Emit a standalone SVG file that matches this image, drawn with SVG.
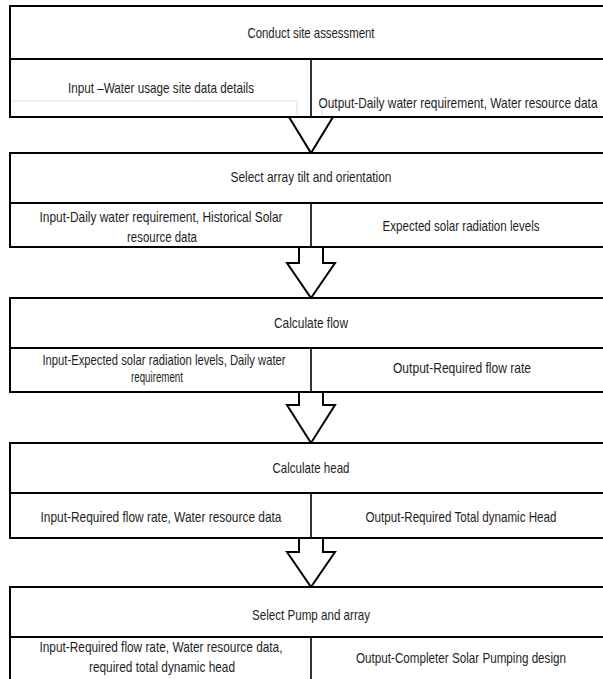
<svg xmlns="http://www.w3.org/2000/svg" width="603" height="679" viewBox="0 0 603 679">
<style>
.box{fill:#fff;stroke:#000;stroke-width:2}
.ln{stroke:#000;stroke-width:2;fill:none}
.dv{stroke:#000;stroke-width:1.6}
.faint{fill:none;stroke:#e2e2e2;stroke-width:1.2}
.arr{fill:#fff;stroke:#000;stroke-width:2;stroke-linejoin:miter}
text{font-family:"Liberation Sans Narrow","Liberation Sans",Arial,sans-serif;font-size:15px;fill:#1e1e1e;text-anchor:middle}
</style>
<rect width="603" height="679" fill="#fff"/>
<g id="connectors">
<polyline class="arr" points="289,117 311,153 333,117"/>
<polyline class="arr" points="299,247 299,263 287,263 311,298 335,263 323,263 323,247"/>
<polyline class="arr" points="299,392 299,405 287,405 311,443 335,405 323,405 323,392"/>
<polyline class="arr" points="299,538 299,552 287,552 311,587 335,552 323,552 323,538"/>
</g>
<g id="node1">
<rect class="box" x="10" y="6" width="620" height="111"/>
<line class="ln" x1="10" y1="59" x2="630" y2="59"/>
<line class="dv" x1="311" y1="59" x2="311" y2="117"/>
<polyline class="faint" points="12,101 297,101 297,116"/>
<polyline class="faint" points="322,116 322,106 340,106"/>
<text x="311" y="38" textLength="127" lengthAdjust="spacingAndGlyphs">Conduct site assessment</text>
<text x="161" y="93" textLength="186" lengthAdjust="spacingAndGlyphs">Input –Water usage site data details</text>
<text x="458" y="108" textLength="279" lengthAdjust="spacingAndGlyphs">Output-Daily water requirement, Water resource data</text>
</g>
<g id="node2">
<rect class="box" x="10" y="153" width="620" height="94"/>
<line class="ln" x1="10" y1="203" x2="630" y2="203"/>
<line class="dv" x1="311" y1="203" x2="311" y2="247"/>
<text x="311" y="182" textLength="161" lengthAdjust="spacingAndGlyphs">Select array tilt and orientation</text>
<text x="161" y="222" textLength="243" lengthAdjust="spacingAndGlyphs">Input-Daily water requirement, Historical Solar</text>
<text x="162" y="242" textLength="70" lengthAdjust="spacingAndGlyphs">resource data</text>
<text x="461" y="231" textLength="157" lengthAdjust="spacingAndGlyphs">Expected solar radiation levels</text>
</g>
<g id="node3">
<rect class="box" x="10" y="298" width="620" height="94"/>
<line class="ln" x1="10" y1="348" x2="630" y2="348"/>
<line class="dv" x1="311" y1="348" x2="311" y2="392"/>
<text x="311" y="328" textLength="74" lengthAdjust="spacingAndGlyphs">Calculate flow</text>
<text x="164" y="365" textLength="243" lengthAdjust="spacingAndGlyphs">Input-Expected solar radiation levels, Daily water</text>
<text x="157" y="382" textLength="52" lengthAdjust="spacingAndGlyphs">requirement</text>
<text x="462" y="373" textLength="138" lengthAdjust="spacingAndGlyphs">Output-Required flow rate</text>
</g>
<g id="node4">
<rect class="box" x="10" y="443" width="620" height="95"/>
<line class="ln" x1="10" y1="493" x2="630" y2="493"/>
<line class="dv" x1="311" y1="493" x2="311" y2="538"/>
<text x="311" y="473" textLength="77" lengthAdjust="spacingAndGlyphs">Calculate head</text>
<text x="161" y="522" textLength="241" lengthAdjust="spacingAndGlyphs">Input-Required flow rate, Water resource data</text>
<text x="461" y="522" textLength="191" lengthAdjust="spacingAndGlyphs">Output-Required Total dynamic Head</text>
</g>
<g id="node5">
<rect class="box" x="10" y="587" width="620" height="120"/>
<line class="ln" x1="10" y1="637" x2="630" y2="637"/>
<line class="dv" x1="311" y1="637" x2="311" y2="700"/>
<text x="311" y="620" textLength="118" lengthAdjust="spacingAndGlyphs">Select Pump and array</text>
<text x="161" y="652" textLength="243" lengthAdjust="spacingAndGlyphs">Input-Required flow rate, Water resource data,</text>
<text x="162" y="672" textLength="146" lengthAdjust="spacingAndGlyphs">required total dynamic head</text>
<text x="461" y="663" textLength="210" lengthAdjust="spacingAndGlyphs">Output-Completer Solar Pumping design</text>
</g>
</svg>
